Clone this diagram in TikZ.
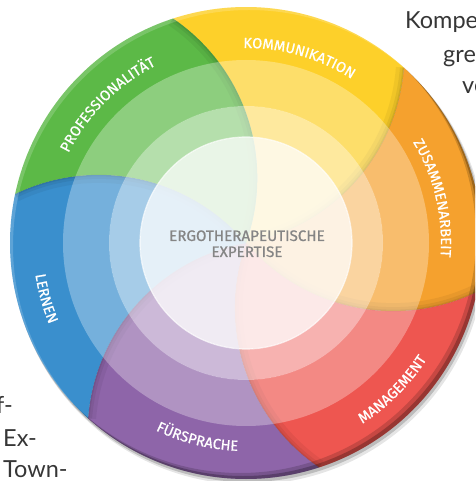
\documentclass[tikz,border=0pt]{standalone}
\usepackage{fontspec}
\setmainfont{Fira Sans}
\newfontfamily\bodyfam{Lato}
\newfontfamily\lblfam{Fira Sans}[FakeBold=0.7]
\usetikzlibrary{decorations.text}
\definecolor{cgreen}{HTML}{5CB947}
\definecolor{cyellow}{HTML}{FDD02A}
\definecolor{corange}{HTML}{F5A12E}
\definecolor{cred}{HTML}{EE5650}
\definecolor{cpurple}{HTML}{8E65A9}
\definecolor{cblue}{HTML}{3A8FCD}
\definecolor{bodytext}{HTML}{363636}
\definecolor{centertext}{HTML}{858585}
\newcommand\lblfont{\lblfam\fontsize{14.6}{14.6}\selectfont}
\tikzset{
  petal/.style={insert path={(0,0) arc[start angle=#1-127.69, end angle=#1-52.31, radius=193pt]
      arc[start angle=#1, end angle=#1-60, radius=236pt]
      arc[start angle=#1-112.31, end angle=#1-187.69, radius=193pt] -- cycle}},
  boundary/.style={insert path={(0,0) arc[start angle=#1-127.69, end angle=#1-52.31, radius=193pt]}},
  lbl/.style={decorate, decoration={text along path, text align=center, text color=white, text={|\lblfont|#1}}},
  body/.style={font=\bodyfam\fontsize{23.5}{28}\selectfont, text=bodytext, inner sep=0pt},
  ctext/.style={font=\lblfam\fontsize{15.2}{16}\selectfont, text=centertext, inner sep=0pt},
}
\begin{document}
\begin{tikzpicture}[x=1pt,y=1pt]
\useasboundingbox (-246,-238) rectangle (229,243);
\clip (-246,-238) rectangle (229,243);
% drop shadow
\fill[black, opacity=.18] (1.5,-2.5) circle (236.5pt);
\fill[black, opacity=.10] (3,-4.5) circle (237pt);
% petals
\foreach \t/\c in {108/cyellow, 48/corange, -12/cred, -72/cpurple, -132/cblue, -192/cgreen}
  \fill[\c, petal=\t];
% folded shadows along clockwise boundary of each petal
\foreach \t in {108, 48, -12, -72, -132, -192} {
  \begin{scope}
    \clip[petal=\t];
    \pgfmathsetmacro\nb{\t-60}
    \draw[black, opacity=.05, line width=16pt, boundary=\nb];
    \draw[black, opacity=.06, line width=8pt, boundary=\nb];
    \draw[black, opacity=.07, line width=3pt, boundary=\nb];
  \end{scope}
}
% light rings
\fill[white, opacity=.30, even odd rule] (0,0) circle (183pt) (0,0) circle (137pt);
\fill[white, opacity=.55, even odd rule] (0,0) circle (137pt) (0,0) circle (106pt);
\fill[white, opacity=.87] (0,0) circle (106pt);
\draw[white, opacity=.7, line width=1.2pt] (0,0) circle (106pt);
% rim bevel
\begin{scope}
  \clip (0,0) circle (236pt);
  \draw[black, opacity=.24, line width=10pt] (-3,3) circle (241pt);
  \draw[black, opacity=.16, line width=10pt] (-6,6) circle (241pt);
  \draw[white, opacity=.18, line width=10pt] (3,-3) circle (241pt);
\end{scope}
% labels
\path[lbl=KOMMUNIKATION] (114:195pt) arc[start angle=114, end angle=34, radius=195pt];
\path[lbl=PROFESSIONALITÄT] (180:199pt) arc[start angle=180, end angle=90, radius=199pt];
\path[lbl=ZUSAMMENARBEIT] (58:195pt) arc[start angle=58, end angle=-31, radius=195pt];
\path[lbl=MANAGEMENT] (-85:215pt) arc[start angle=-85, end angle=-5, radius=215pt];
\path[lbl=FÜRSPRACHE] (-144:208pt) arc[start angle=-144, end angle=-64, radius=208pt];
\path[lbl=LERNEN] (-204:213pt) arc[start angle=-204, end angle=-125, radius=213pt];
% centre text
\node[ctext, anchor=base] (c1) at (1,2) {ERGOTHERAPEUTISCHE};
\node[ctext, anchor=base] (c2) at (1,-14) {EXPERTISE};
% surrounding body text
\node[body, anchor=base west] (t1) at (159,214) {Kompe};
\node[body, anchor=base west] (t2) at (197,180) {gre};
\node[body, anchor=base west] (t3) at (216,149) {ve};
\node[body, anchor=base east] (t4) at (-233,-170) {f-};
\node[body, anchor=base west] (t5) at (-243,-203) {Ex-};
\node[body, anchor=base west] (t6) at (-243,-234) {Town-};
\end{tikzpicture}
\end{document}
